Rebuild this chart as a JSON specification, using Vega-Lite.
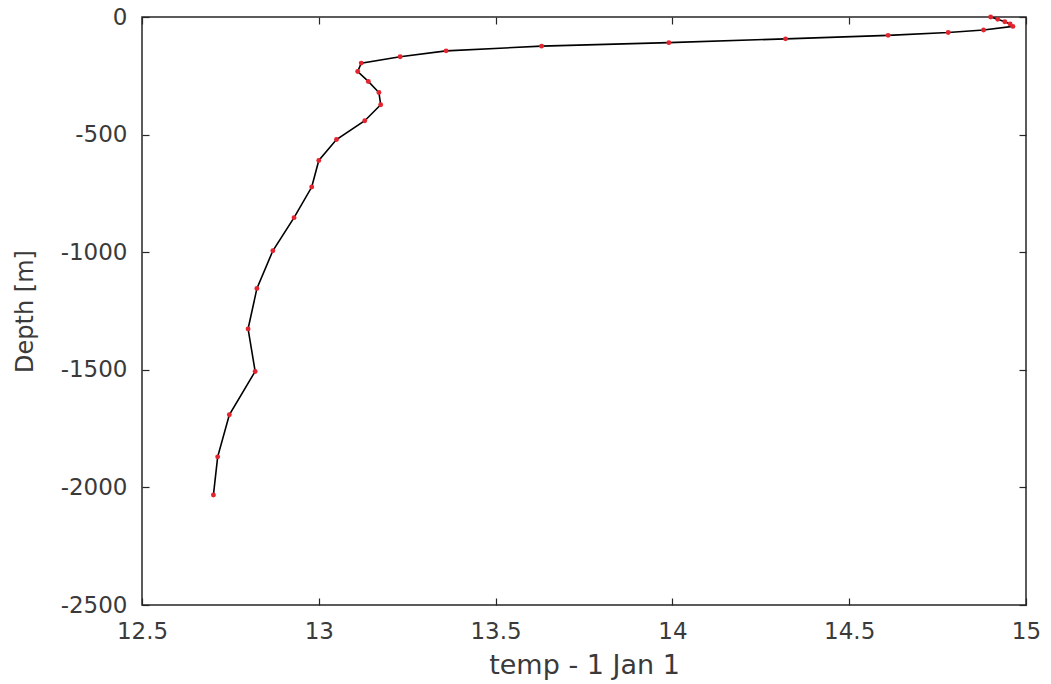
{
  "$schema": "https://vega.github.io/schema/vega-lite/v6.json",
  "width": 884,
  "height": 588,
  "autosize": {"type": "none"},
  "padding": {"left": 142, "top": 17, "right": 25, "bottom": 79},
  "background": "white",
  "config": {
    "view": {"stroke": "#262626", "strokeWidth": 1.5},
    "axis": {
      "grid": false,
      "domain": false,
      "labelFlush": false,
      "labelOverlap": false,
      "tickColor": "#262626",
      "tickSize": -7,
      "tickWidth": 1.2,
      "labelColor": "#3a3a3a",
      "titleColor": "#3a3a3a",
      "labelFontWeight": "normal",
      "titleFontWeight": "normal"
    }
  },
  "data": {
    "values": [
      {"depth": 0, "temp": 14.90},
      {"depth": -10, "temp": 14.92},
      {"depth": -20, "temp": 14.94},
      {"depth": -30, "temp": 14.955},
      {"depth": -40, "temp": 14.963},
      {"depth": -55, "temp": 14.88},
      {"depth": -66, "temp": 14.78},
      {"depth": -78, "temp": 14.61},
      {"depth": -93, "temp": 14.32},
      {"depth": -109, "temp": 13.99},
      {"depth": -124, "temp": 13.63},
      {"depth": -144, "temp": 13.36},
      {"depth": -169, "temp": 13.23},
      {"depth": -196, "temp": 13.12},
      {"depth": -232, "temp": 13.11},
      {"depth": -274, "temp": 13.14},
      {"depth": -321, "temp": 13.17},
      {"depth": -373, "temp": 13.175},
      {"depth": -441, "temp": 13.13},
      {"depth": -521, "temp": 13.05},
      {"depth": -610, "temp": 13.0},
      {"depth": -723, "temp": 12.98},
      {"depth": -853, "temp": 12.93},
      {"depth": -994, "temp": 12.87},
      {"depth": -1154, "temp": 12.825},
      {"depth": -1326, "temp": 12.80},
      {"depth": -1507, "temp": 12.82},
      {"depth": -1691, "temp": 12.747},
      {"depth": -1870, "temp": 12.714},
      {"depth": -2032, "temp": 12.702}
    ]
  },
  "layer": [
    {
      "mark": {"type": "line", "color": "black", "strokeWidth": 1.6},
      "encoding": {
        "x": {
          "field": "temp", "type": "quantitative",
          "scale": {"domain": [12.5, 15], "nice": false, "zero": false},
          "axis": {
            "orient": "bottom",
            "values": [12.5, 13, 13.5, 14, 14.5, 15],
            "labelExpr": "'' + datum.value",
            "labelFont": "DejaVu Sans",
            "labelFontSize": 23,
            "labelPadding": 22,
            "title": "temp - 1 Jan 1",
            "titleFont": "DejaVu Sans",
            "titleFontSize": 27,
            "titleY": 60,
            "titleBaseline": "middle"
          }
        },
        "y": {
          "field": "depth", "type": "quantitative",
          "scale": {"domain": [-2500, 0], "nice": false},
          "axis": {
            "orient": "left",
            "values": [0, -500, -1000, -1500, -2000, -2500],
            "labelExpr": "'' + datum.value",
            "labelFont": "DejaVu Sans",
            "labelFontSize": 23,
            "labelPadding": 22,
            "title": "Depth [m]",
            "titleFont": "DejaVu Sans",
            "titleFontSize": 24,
            "titleX": -117,
            "titleBaseline": "middle"
          }
        },
        "order": {"field": "depth", "sort": "descending"}
      }
    },
    {
      "mark": {"type": "circle", "color": "#e3252f", "opacity": 1, "size": 24},
      "encoding": {
        "x": {
          "field": "temp", "type": "quantitative",
          "axis": {"orient": "top", "values": [12.5, 13, 13.5, 14, 14.5, 15], "labels": false, "title": null}
        },
        "y": {
          "field": "depth", "type": "quantitative",
          "axis": {"orient": "right", "values": [0, -500, -1000, -1500, -2000, -2500], "labels": false, "title": null}
        }
      }
    }
  ],
  "resolve": {"axis": {"x": "independent", "y": "independent"}}
}
